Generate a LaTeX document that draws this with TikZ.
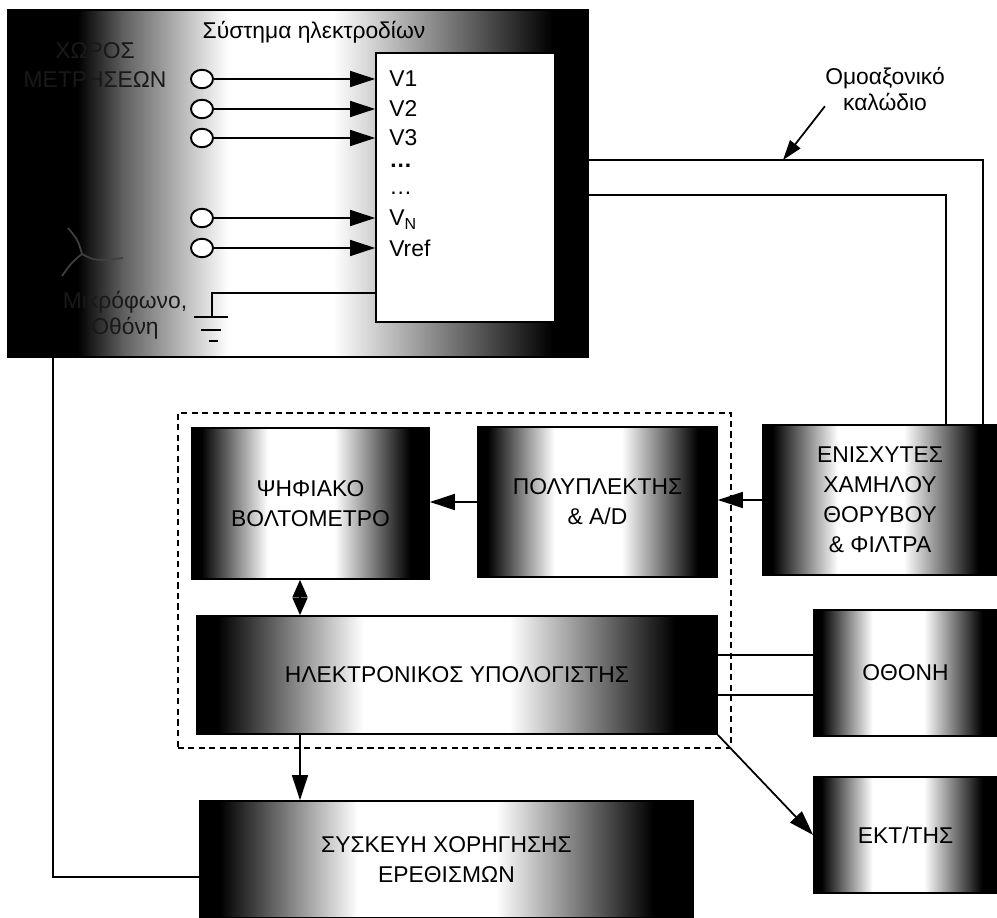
\documentclass[tikz,border=0pt]{standalone}
\usepackage{fontspec}
\setmainfont{Liberation Sans}
\usetikzlibrary{positioning,arrows.meta,fit,shapes.geometric}
% dark edges, light middle
\pgfdeclarehorizontalshading{blkbox}{100bp}{color(0bp)=(black); color(27bp)=(black); color(41bp)=(white); color(55bp)=(white); color(71bp)=(black); color(100bp)=(black)}
\pgfdeclarehorizontalshading{sysshade}{100bp}{color(0bp)=(black); color(31bp)=(black); color(35bp)=(black!62); color(44bp)=(white); color(53bp)=(white); color(72bp)=(black); color(100bp)=(black)}
\tikzset{
  wire/.style={line width=1pt},
  arr/.style={-{Triangle[length=5mm,width=3.2mm]},line width=1pt},
  arrs/.style={-{Triangle[length=4mm,width=2.6mm]},line width=1pt},
  darr/.style={{Triangle[length=3.5mm,width=3mm]}-{Triangle[length=3.5mm,width=3mm]},line width=1pt},
  blk/.style={rectangle,draw=black,line width=1pt,shade,shading=blkbox,inner sep=0pt,
    align=center,font=\fontsize{13}{17}\selectfont},
  elc/.style={ellipse,draw,fill=white,line width=1.1pt,minimum width=0.44cm,minimum height=0.37cm,inner sep=0pt},
  vlbl/.style={anchor=west,inner sep=0pt,font=\fontsize{13}{15}\selectfont},
  txt/.style={align=center,inner sep=0pt,font=\fontsize{13}{17}\selectfont},
  grpbox/.style={draw,line width=1.2pt,dash pattern=on 3.5pt off 2.5pt,inner sep=0.27cm},
}
\begin{document}
\begin{tikzpicture}[x=0.02cm,y=-0.02cm]
  \useasboundingbox (0,0) rectangle (997,918);
  % electrode system and measurement room
  \node[rectangle,draw,line width=1pt,shade,shading=sysshade,minimum width=11.6cm,minimum height=6.94cm] (sys) at (298,183.5) {};
  \node[rectangle,draw,fill=white,line width=1pt,minimum width=3.58cm,minimum height=5.38cm] (elec) at (465.5,187.5) {};
  \node[txt] (systl) at (314,32) {Σύστημα ηλεκτροδίων};
  \node[txt,text=black!90] (room) at (95,65) {ΧΩΡΟΣ\\ΜΕΤΡΗΣΕΩΝ};
  \node[txt,text=black!90,font=\fontsize{13}{15}\selectfont] (mic) at (125,315) {Μικρόφωνο,\\Οθόνη};
  \foreach \i/\y in {1/79,2/109,3/138,4/218,5/248}{
    \node[elc] (e\i) at (202,\y) {};
    \draw[arr] (e\i) -- (e\i -| elec.west);
  }
  \foreach \i/\y/\t in {1/79/V1,2/109/V2,3/138/V3,4/166/{\textbf{\ldots}},5/193/{\ldots},6/220/{V\textsubscript{N}},7/248/Vref}
    \node[vlbl] (v\i) at (389,\y) {\t};
  % ground
  \coordinate (gnd) at (212,293);
  \draw[wire] (gnd -| elec.west) -- (gnd) -- ++(0,24);
  \draw[wire] (194,317) -- (228,317) (201,330) -- (221,330) (209,341) -- (218,341);
  % microphone
  \draw[wire,black!75] (68,228) .. controls (78,240) .. (82,254)
    (62,276) .. controls (72,262) .. (82,254)
    (82,254) .. controls (95,261) .. (123,258);

  % blocks
  \node[blk,minimum width=4.74cm,minimum height=3.02cm] (dvm) at (310.5,503.5) {ΨΗΦΙΑΚΟ\\ΒΟΛΤΟΜΕΤΡΟ};
  \node[blk,minimum width=4.78cm,minimum height=3.0cm] (mux) at (597.5,502) {ΠΟΛΥΠΛΕΚΤΗΣ\\\& A/D};
  \node[blk,minimum width=4.68cm,minimum height=3.0cm] (enis) at (880,500) {ΕΝΙΣΧΥΤΕΣ\\ΧΑΜΗΛΟΥ\\ΘΟΡΥΒΟΥ\\\& ΦΙΛΤΡΑ};
  \node[blk,minimum width=10.4cm,minimum height=2.36cm] (pc) at (457,675) {ΗΛΕΚΤΡΟΝΙΚΟΣ ΥΠΟΛΟΓΙΣΤΗΣ};
  \node[blk,minimum width=3.66cm,minimum height=2.52cm] (scr) at (905.5,673) {ΟΘΟΝΗ};
  \node[blk,minimum width=3.66cm,minimum height=2.32cm] (ekt) at (905.5,835) {ΕΚΤ/ΤΗΣ};
  \node[blk,minimum width=9.86cm,minimum height=2.34cm] (sysk) at (446.5,859.5) {ΣΥΣΚΕΥΗ ΧΟΡΗΓΗΣΗΣ\\ΕΡΕΘΙΣΜΩΝ};
  \node[grpbox,fit=(dvm)(mux)(pc)] (grp) {};

  % coaxial cable
  \coordinate (ca) at (983,160);
  \coordinate (cb) at (946,195);
  \draw[wire] (ca -| sys.east) -- (ca) -- (ca |- enis.north);
  \draw[wire] (cb -| sys.east) -- (cb) -- (cb |- enis.north);
  \node[txt,font=\fontsize{13}{15}\selectfont] (coaxl) at (885,89) {Ομοαξονικό\\καλώδιο};
  \coordinate (cp) at (783,160);
  \draw[arrs] ([yshift=0.1cm]coaxl.south west) -- (cp);

  % signal flow
  \coordinate (dn) at (300,0);
  \draw[arr] (enis.west) -- (enis.west -| mux.east);
  \draw[arr] (mux.west) -- (mux.west -| dvm.east);
  \draw[darr] (dvm.south -| dn) -- (pc.north -| dn);
  \draw[arr] (pc.south -| dn) -- (sysk.north -| dn);
  \coordinate (s1) at (0,655);
  \coordinate (s2) at (0,695);
  \draw[wire] (pc.east |- s1) -- (scr.west |- s1);
  \draw[wire] (pc.east |- s2) -- (scr.west |- s2);
  \draw[arr] (pc.south east) -- (ekt.west);
  \coordinate (lb) at (53,877);
  \draw[wire] (lb |- sys.south) -- (lb) -- (lb -| sysk.west);
\end{tikzpicture}
\end{document}
